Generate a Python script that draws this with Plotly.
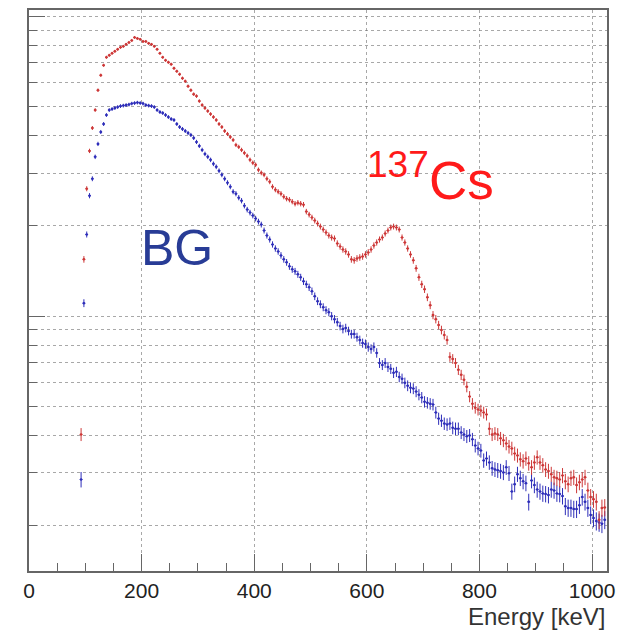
import numpy as np
import plotly.graph_objects as go

# Energy binning (keV): bin centres start at 92.5 keV, 5 keV wide
BIN_START = 92.5
BIN_WIDTH = 5.0

# 137Cs source spectrum (counts per bin)
cs_counts = [
    403, 1547, 2662, 3560, 4245, 4872, 5677, 6368, 6874, 7309,
    7421, 7535, 7652, 7770, 7889, 7950, 8072, 8195, 8322, 8516,
    8451, 8387, 8258, 8258, 8133, 8072, 7950, 7770, 7535, 7309,
    7142, 7035, 6928, 6719, 6566, 6417, 6224, 6082, 5853, 5677,
    5506, 5423, 5219, 5061, 4947, 4835, 4725, 4618, 4513, 4377,
    4278, 4149, 4054, 3963, 3873, 3727, 3671, 3587, 3506, 3427,
    3323, 3248, 3199, 3077, 3007, 2962, 2874, 2809, 2703, 2642,
    2602, 2562, 2504, 2466, 2447, 2410, 2373, 2391, 2373, 2355,
    2233, 2182, 2133, 2084, 2037, 1991, 1946, 1902, 1858, 1830,
    1816, 1748, 1708, 1669, 1644, 1607, 1547, 1535, 1558, 1570,
    1582, 1607, 1632, 1669, 1721, 1761, 1802, 1830, 1887, 1931,
    1976, 1991, 1976, 1946, 1830, 1761, 1682, 1607, 1535, 1444,
    1348, 1277, 1230, 1156, 1088, 1008, 977, 934, 899, 865,
    832, 731, 720, 698, 662, 637, 613, 581, 539, 510,
    495, 488, 484, 477, 470, 421, 403, 406, 403, 391,
    385, 376, 367, 362, 348, 343, 333, 328, 335, 323,
    313, 325, 338, 325, 318, 308, 304, 297, 290, 288,
    285, 294, 281, 275, 288, 290, 273, 279, 285, 290,
    262, 249, 245, 240, 209, 229, 230,
]

# Background spectrum (counts per bin)
bg_counts = [
    285, 1105, 1873, 2523, 2874, 3401, 3756, 4117, 4377, 4690,
    4872, 4910, 4947, 4985, 5023, 5042, 5061, 5081, 5120, 5140,
    5159, 5140, 5120, 5061, 5042, 5023, 4985, 4872, 4798, 4762,
    4690, 4618, 4548, 4513, 4377, 4278, 4213, 4149, 4086, 4024,
    3933, 3814, 3699, 3587, 3479, 3401, 3323, 3223, 3150, 3055,
    2963, 2874, 2787, 2703, 2602, 2562, 2485, 2428, 2337, 2267,
    2216, 2166, 2116, 2068, 2021, 1931, 1858, 1802, 1735, 1682,
    1644, 1595, 1547, 1512, 1466, 1433, 1411, 1379, 1348, 1307,
    1277, 1248, 1211, 1165, 1122, 1096, 1071, 1047, 1031, 1000,
    977, 955, 927, 906, 913, 892, 871, 871, 851, 832,
    813, 807, 789, 777, 789, 754, 698, 687, 698, 677,
    667, 647, 652, 627, 618, 599, 586, 577, 573, 560,
    547, 535, 518, 514, 510, 507, 477, 455, 448, 438,
    435, 438, 424, 421, 421, 409, 403, 397, 400, 388,
    370, 362, 356, 330, 335, 325, 311, 308, 306, 304,
    301, 313, 299, 260, 275, 297, 288, 281, 277, 240,
    283, 273, 264, 260, 256, 255, 253, 264, 262, 256,
    255, 251, 232, 229, 229, 227, 227, 234, 249, 240,
    229, 217, 212, 207, 205, 203, 209,
]

x_ticks = [0, 200, 400, 600, 800, 1000]
x_ticktext = ["0", "200", "400", "600", "800", "1000"]
y_major = [1000, 10000]
y_minor = [200, 300, 400, 500, 600, 700, 800, 900,
           2000, 3000, 4000, 5000, 6000, 7000, 8000, 9000]

energy = BIN_START + BIN_WIDTH * np.arange(len(cs_counts))
cs = np.array(cs_counts, dtype=float)
bg = np.array(bg_counts, dtype=float)

RED = "rgb(205,55,55)"
BLUE = "rgb(45,45,185)"
GRID = "rgba(110,110,110,0.6)"
FONT = "Liberation Sans, Arial, Helvetica, sans-serif"

fig = go.Figure()
for counts, col, name in [(bg, BLUE, "BG"), (cs, RED, "137Cs")]:
    fig.add_trace(go.Scatter(
        x=energy, y=counts, mode="markers", name=name,
        marker=dict(size=2.5, color=col),
        error_x=dict(type="constant", value=BIN_WIDTH / 2, thickness=1, width=0, color=col),
        error_y=dict(type="data", array=np.sqrt(counts), thickness=1, width=0, color=col),
        showlegend=False,
    ))

fig.update_layout(
    width=623, height=633,
    margin=dict(l=29, r=13, t=8, b=62),
    paper_bgcolor="white", plot_bgcolor="white",
    font=dict(family=FONT, color="#222"),
    xaxis=dict(
        range=[0, 1026.5], tickvals=x_ticks, ticktext=x_ticktext,
        ticks="inside", ticklen=17, tickcolor="#666", tickwidth=1,
        tickfont=dict(size=21, color="#222"),
        ticklabelstandoff=0,
        showgrid=True, gridcolor=GRID, griddash="dot", gridwidth=1,
        minor=dict(dtick=50, ticks="inside", ticklen=8, tickcolor="#666", showgrid=False),
        showline=True, linecolor="#666", linewidth=1.5, mirror=True,
        zeroline=False,
    ),
    yaxis=dict(
        type="log", range=[2.1495, 4.0216],
        tickvals=y_major, showticklabels=False,
        ticks="inside", ticklen=16, tickcolor="#666", tickwidth=1,
        showgrid=True, gridcolor=GRID, griddash="dot", gridwidth=1,
        minor=dict(tickvals=y_minor, ticks="inside", ticklen=8, tickcolor="#666",
                   showgrid=True, gridcolor=GRID, griddash="dot", gridwidth=1),
        showline=True, linecolor="#666", linewidth=1.5, mirror=True,
        zeroline=False,
    ),
    annotations=[
        dict(text="BG", xref="paper", yref="paper", x=0.2565, y=0.575,
             xanchor="center", yanchor="middle", showarrow=False,
             font=dict(size=50, color="#283c96", family=FONT)),
        dict(text="<sup>137</sup>Cs", xref="paper", yref="paper", x=0.695, y=0.703,
             xanchor="center", yanchor="middle", showarrow=False,
             font=dict(size=53, color="#ff1a1a", family=FONT)),
        dict(text="Energy [keV]", xref="paper", yref="paper", x=1.0, y=-0.0805,
             xanchor="right", yanchor="middle", showarrow=False,
             font=dict(size=24, color="#333", family=FONT)),
    ],
)

fig.write_html("out.html")
